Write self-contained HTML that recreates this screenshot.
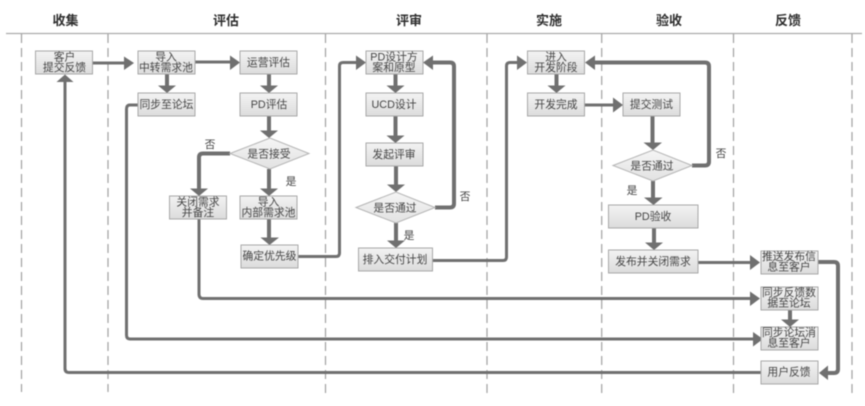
<!DOCTYPE html>
<html><head><meta charset="utf-8">
<style>
html,body{margin:0;padding:0;background:#fff;width:865px;height:406px;overflow:hidden}
svg{display:block;filter:blur(0.5px)}
text{font-family:"Liberation Sans","Noto Sans CJK SC",sans-serif;font-size:10.8px;fill:#444;text-anchor:middle}
.h{font-size:13px;font-weight:bold;fill:#2e2e2e}
.l{fill:none;stroke:#707070;stroke-linejoin:round}
.t3{stroke-width:3}
.t4{stroke-width:4}
.a{fill:#707070}
.b{fill:url(#g);stroke:#a8a8a8;stroke-width:1}
.d{fill:url(#g2);stroke:#b4b4b4;stroke-width:1}
.v{stroke:#a0a0a0;stroke-width:1.2;stroke-dasharray:9 5;fill:none}
</style></head><body>
<svg width="865" height="406" viewBox="0 0 865 406" xmlns="http://www.w3.org/2000/svg">
<defs>
<linearGradient id="g" x1="0" y1="0" x2="0" y2="1"><stop offset="0" stop-color="#f3f3f3"/><stop offset="1" stop-color="#dcdcdc"/></linearGradient>
<linearGradient id="g2" x1="0" y1="0" x2="0" y2="1"><stop offset="0" stop-color="#f5f5f5"/><stop offset="1" stop-color="#e2e2e2"/></linearGradient>
</defs>
<rect width="865" height="406" fill="#fff"/>
<path d="M6 33.500H862" stroke="#aaa" stroke-width="1.2" fill="none"/>
<path class="v" d="M21.500 34V392M108 34V392M325.500 34V397M487 34V397M601.700 34V397M733.500 34V397M852 34V397"/>
<text class="h" x="65.500" y="25">收集</text>
<text class="h" x="226" y="25">评估</text>
<text class="h" x="409" y="25">评审</text>
<text class="h" x="549" y="25">实施</text>
<text class="h" x="669" y="25">验收</text>
<text class="h" x="788" y="25">反馈</text>

<!-- connectors -->
<g>
<path class="l t3" d="M93 63H126"/><path class="a" d="M124 56.500L134 63L124 70Z"/>
<path class="l t3" d="M195 62H231"/><path class="a" d="M230 55.500L240 62.500L230 70Z"/>
<path class="l t4" d="M167 74V86"/><path class="a" d="M158 85.500H176L167 93Z"/>
<path class="l t4" d="M269 74V86"/><path class="a" d="M260 85.500H278L269 93Z"/>
<path class="l t4" d="M269 116V131"/><path class="a" d="M260 130.500H278L269 138Z"/>
<path class="l t4" d="M269 169V189"/><path class="a" d="M260 188.500H278L269 196Z"/>
<path class="l t4" d="M269 219V238"/><path class="a" d="M260.500 237.500H279L269.500 245Z"/>
<path class="l t4" d="M230 153.500H203Q199 153.500 199 157.500V189"/><path class="a" d="M190 188.500H208L199 196Z"/>
<path class="l t3" d="M199 219V294Q199 298.500 203 298.500H751"/><path class="a" d="M750 291.500L760 298.500L750 306Z"/>
<path class="l t3" d="M138 105H130Q126.500 105 126.500 109V335Q126.500 339 130 339H755"/><path class="a" d="M753 332L763 339L753 346.500Z"/>
<path class="l t3" d="M761 372.500H69Q65 372.500 65 368.500V80"/><path class="a" d="M56.500 82L65 74.500L73.500 82Z"/>
<path class="l t3" d="M298 256.500H336Q339.500 256.500 339.500 253V66Q339.500 62.500 343 62.500H358"/><path class="a" d="M356 55.500L366 62.500L356 70Z"/>
<path class="l t4" d="M395.500 74V86"/><path class="a" d="M386.500 85.500H404.500L395.500 93Z"/>
<path class="l t4" d="M395.500 116V136"/><path class="a" d="M386.500 135.500H404.500L395.500 143Z"/>
<path class="l t4" d="M396 166V185"/><path class="a" d="M387 184.500H405L396 192Z"/>
<path class="l t4" d="M396 223V241"/><path class="a" d="M387 240.500H405L396 248Z"/>
<path class="l t4" d="M435 207.500H450Q454 207.500 454 203.500V66.500Q454 62.500 450 62.500H431"/><path class="a" d="M433 55.500L423 62.500L433 70Z"/>
<path class="l t3" d="M432 260.500H503Q506.500 260.500 506.500 257V66Q506.500 62.500 510 62.500H519"/><path class="a" d="M517 55.500L527 62.500L517 70Z"/>
<path class="l t4" d="M556.500 74V86"/><path class="a" d="M547.500 85.500H565.500L556.500 93Z"/>
<path class="l t3" d="M585 105H615"/><path class="a" d="M613 97.500L623 105L613 112.500Z"/>
<path class="l t4" d="M652.500 116V143"/><path class="a" d="M643.500 142.500H662L653 150Z"/>
<path class="l t4" d="M653 181V198"/><path class="a" d="M644 197.500H662.500L653.500 205Z"/>
<path class="l t4" d="M654 228V243"/><path class="a" d="M645 242.500H663L654 250Z"/>
<path class="l t4" d="M692 165.500H705Q709 165.500 709 161.500V66.500Q709 62.500 705 62.500H593"/><path class="a" d="M595 55.500L585 62.500L595 70Z"/>
<path class="l t3" d="M698 262.500H752"/><path class="a" d="M750 255L760 262.500L750 270Z"/>
<path class="l t4" d="M790 310V320"/><path class="a" d="M781 319.500H799L790 327Z"/>
<path class="l t4" d="M818 262H834Q838 262 838 266V369Q838 373 834 373H826"/><path class="a" d="M828 365.500L819 373L828 380Z"/>
</g>

<!-- boxes -->
<g>
<rect class="b" x="35.500" y="51" width="57" height="23"/><text x="64.500" y="60.500">客户</text><text x="64.500" y="71">提交反馈</text>
<rect class="b" x="138" y="51" width="57" height="23"/><text x="166" y="60.500">导入</text><text x="166" y="71">中转需求池</text>
<rect class="b" x="240" y="51" width="57" height="23"/><text x="268.500" y="66">运营评估</text>
<rect class="b" x="138" y="93" width="57" height="23"/><text x="166.500" y="108">同步至论坛</text>
<rect class="b" x="240" y="93" width="57" height="23"/><text x="269" y="108">PD评估</text>
<polygon class="d" points="230,153.500 270,138 309,153.500 270,169"/><text x="269" y="157.500">是否接受</text>
<text x="210" y="148">否</text>
<text x="291" y="185">是</text>
<rect class="b" x="169.500" y="196" width="57" height="23"/><text x="198" y="205.500">关闭需求</text><text x="198" y="216">并备注</text>
<rect class="b" x="240" y="196" width="57" height="23"/><text x="268.500" y="205.500">导入</text><text x="268.500" y="216">内部需求池</text>
<rect class="b" x="241" y="245" width="57" height="23"/><text x="269.500" y="259.500">确定优先级</text>

<rect class="b" x="366" y="51" width="57" height="23"/><text x="394" y="60.500">PD设计方</text><text x="394" y="71">案和原型</text>
<rect class="b" x="366" y="93" width="57" height="23"/><text x="394" y="108">UCD设计</text>
<rect class="b" x="366" y="143" width="57" height="23"/><text x="394" y="158">发起评审</text>
<polygon class="d" points="356,207.500 396,192 435,207.500 396,223"/><text x="395" y="211.500">是否通过</text>
<text x="465" y="200">否</text>
<text x="409" y="239">是</text>
<rect class="b" x="358.500" y="248" width="74" height="23"/><text x="395" y="263">排入交付计划</text>

<rect class="b" x="527.500" y="51" width="57" height="23"/><text x="556" y="60.500">进入</text><text x="556" y="71">开发阶段</text>
<rect class="b" x="527.500" y="93" width="57" height="23"/><text x="556" y="108">开发完成</text>

<rect class="b" x="623" y="93" width="57" height="23"/><text x="651.500" y="108">提交测试</text>
<polygon class="d" points="613,165.500 653,150 692,165.500 653,181"/><text x="652" y="169.500">是否通过</text>
<text x="721" y="157">否</text>
<text x="632" y="194">是</text>
<rect class="b" x="608.500" y="205" width="89.500" height="23"/><text x="653" y="220">PD验收</text>
<rect class="b" x="608.500" y="250" width="89.500" height="23"/><text x="653" y="265">发布并关闭需求</text>

<rect class="b" x="761" y="251" width="57" height="23"/><text x="789" y="260">推送发布信</text><text x="789" y="270.500">息至客户</text>
<rect class="b" x="761" y="287" width="57" height="23"/><text x="789" y="296">同步反馈数</text><text x="789" y="306.500">据至论坛</text>
<rect class="b" x="761" y="327" width="57" height="23"/><text x="789" y="336">同步论坛消</text><text x="789" y="346.500">息至客户</text>
<rect class="b" x="761" y="361" width="57" height="23"/><text x="789" y="375.500">用户反馈</text>
</g>
</svg>
</body></html>
